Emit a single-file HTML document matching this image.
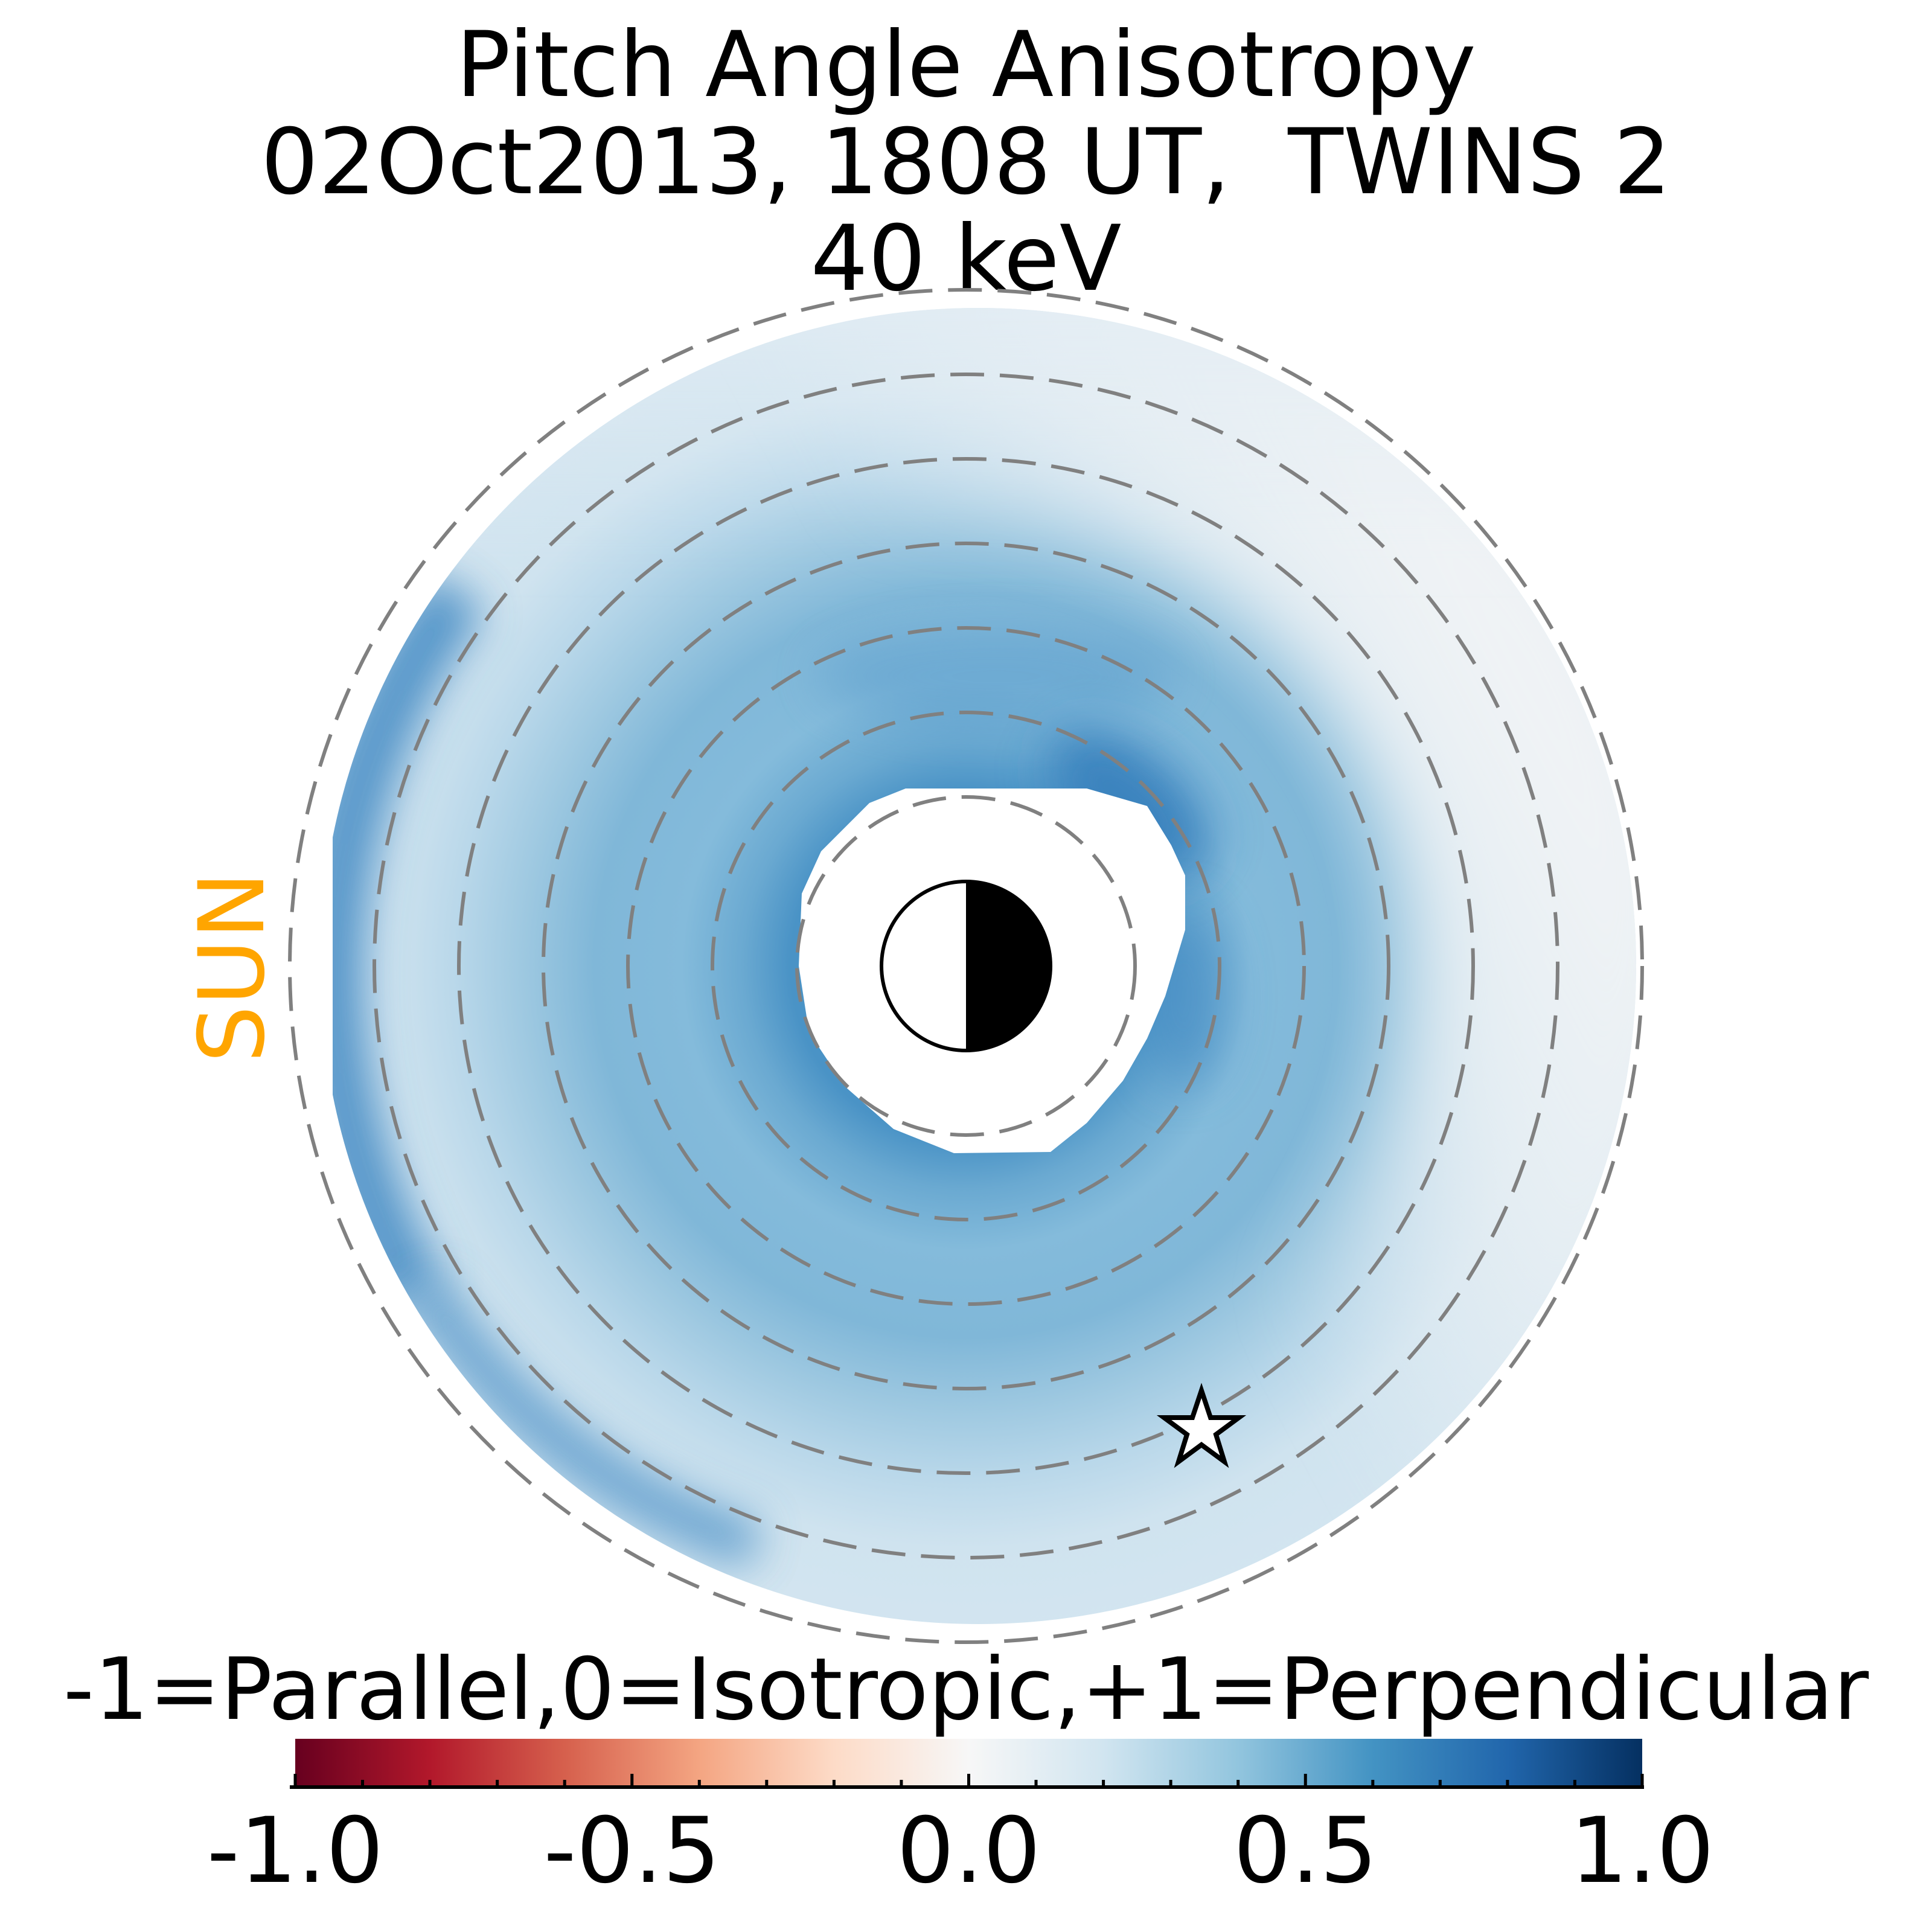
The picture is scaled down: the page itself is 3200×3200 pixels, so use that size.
<!DOCTYPE html>
<html><head><meta charset="utf-8"><style>html,body{margin:0;padding:0;background:#fff}svg{display:block}</style></head>
<body>
<svg width="3200" height="3200" viewBox="0 0 3200 3200" xmlns="http://www.w3.org/2000/svg" font-family="'DejaVu Sans','Liberation Sans',sans-serif">
<defs>
<radialGradient id="base" cx="1600" cy="1600" r="1120" gradientUnits="userSpaceOnUse">
<stop offset="0.26" stop-color="#4a93c6"/>
<stop offset="0.33" stop-color="#6aa9d1"/>
<stop offset="0.42" stop-color="#84bbdb"/>
<stop offset="0.55" stop-color="#80b7d8"/>
<stop offset="0.66" stop-color="#9fc9e1"/>
<stop offset="0.76" stop-color="#bad8ea"/>
<stop offset="0.86" stop-color="#cfe3ef"/>
<stop offset="1" stop-color="#d3e5f0"/>
</radialGradient>
<linearGradient id="pale" x1="1900" y1="1750" x2="2650" y2="1350" gradientUnits="userSpaceOnUse">
<stop offset="0" stop-color="#eef2f5" stop-opacity="0"/>
<stop offset="0.55" stop-color="#eaf0f4" stop-opacity="0.85"/>
<stop offset="1" stop-color="#f0f3f5" stop-opacity="1"/>
</linearGradient>
<linearGradient id="paletop" x1="1600" y1="900" x2="1600" y2="480" gradientUnits="userSpaceOnUse">
<stop offset="0" stop-color="#e3edf4" stop-opacity="0"/>
<stop offset="1" stop-color="#e3edf4" stop-opacity="0.7"/>
</linearGradient>
<linearGradient id="cbar" x1="489" y1="0" x2="2720" y2="0" gradientUnits="userSpaceOnUse">
<stop offset="0" stop-color="#67001f"/>
<stop offset="0.1" stop-color="#b2182b"/>
<stop offset="0.2" stop-color="#d6604d"/>
<stop offset="0.3" stop-color="#f4a582"/>
<stop offset="0.4" stop-color="#fddbc7"/>
<stop offset="0.5" stop-color="#f7f7f7"/>
<stop offset="0.6" stop-color="#d1e5f0"/>
<stop offset="0.7" stop-color="#92c5de"/>
<stop offset="0.8" stop-color="#4393c3"/>
<stop offset="0.9" stop-color="#2166ac"/>
<stop offset="1" stop-color="#053061"/>
</linearGradient>
<clipPath id="disk"><path d="M551 1387 A1090 1090 0 1 1 551 1813 Z"/></clipPath>
<filter id="bl" filterUnits="userSpaceOnUse" x="0" y="0" width="3200" height="3200"><feGaussianBlur stdDeviation="40"/></filter>
<filter id="bl2" filterUnits="userSpaceOnUse" x="0" y="0" width="3200" height="3200"><feGaussianBlur stdDeviation="35"/></filter>
<filter id="bl3" filterUnits="userSpaceOnUse" x="0" y="0" width="3200" height="3200"><feGaussianBlur stdDeviation="60"/></filter>
</defs>

<text x="1600" y="159" font-size="150" text-anchor="middle">Pitch Angle Anisotropy</text>
<text x="1600" y="320" font-size="150" text-anchor="middle" xml:space="preserve">02Oct2013, 1808 UT,  TWINS 2</text>
<text x="1600" y="480" font-size="150" text-anchor="middle">40 keV</text>

<g clip-path="url(#disk)">
<rect x="400" y="400" width="2400" height="2400" fill="url(#base)"/>
<path d="M1600 400 A1200 1200 0 1 1 1599 400 Z M1600 850 A750 750 0 1 0 1601 850 Z" fill-rule="evenodd" fill="url(#pale)" filter="url(#bl3)"/>
<rect x="400" y="300" width="2400" height="700" fill="url(#paletop)" filter="url(#bl3)"/>
<path d="M 760 980 A1060 1060 0 0 0 690 2150" fill="none" stroke="#3f88c2" stroke-width="110" opacity="0.85" filter="url(#bl2)"/>
<path d="M 700 2130 A1000 1000 0 0 0 1250 2560" fill="none" stroke="#4a90c6" stroke-width="80" opacity="0.75" filter="url(#bl2)"/>
<ellipse cx="1870" cy="1330" rx="160" ry="90" transform="rotate(40 1870 1330)" fill="#2f79b9" opacity="0.8" filter="url(#bl)"/>
<ellipse cx="1960" cy="1650" rx="70" ry="150" fill="#3f88c2" opacity="0.6" filter="url(#bl)"/>
<ellipse cx="1650" cy="1120" rx="300" ry="80" fill="#4d93c7" opacity="0.4" filter="url(#bl)"/>
</g>

<path d="M1440 1330 L1500 1306 L1800 1306 L1900 1335 L1940 1400 L1963 1450 L1963 1540 L1930 1650 L1900 1720 L1860 1790 L1800 1860 L1740 1908 L1580 1910 L1480 1870 L1400 1800 L1340 1710 L1323 1600 L1328 1480 L1360 1410 Z" fill="#fff"/>

<g fill="none" stroke="#808080" stroke-width="6" stroke-dasharray="56 26">
<circle cx="1600" cy="1600" r="280"/>
<circle cx="1600" cy="1600" r="420"/>
<circle cx="1600" cy="1600" r="560"/>
<circle cx="1600" cy="1600" r="700"/>
<circle cx="1600" cy="1600" r="840"/>
<circle cx="1600" cy="1600" r="980"/>
<circle cx="1600" cy="1600" r="1120"/>
</g>

<circle cx="1600" cy="1600" r="140" fill="#fff" stroke="#000" stroke-width="6"/>
<path d="M1600 1460 A140 140 0 0 1 1600 1740 Z" fill="#000"/>

<polygon points="1990,2303 2005,2348 2052,2348 2014,2376 2028,2421 1990,2393 1952,2421 1966,2376 1928,2348 1975,2348" fill="#fff" stroke="#000" stroke-width="8" stroke-linejoin="miter"/>

<text x="0" y="0" font-size="150" fill="#ffa500" text-anchor="middle" transform="translate(436 1602) rotate(-90)">SUN</text>

<text x="1600" y="2847" font-size="142" text-anchor="middle">-1=Parallel,0=Isotropic,+1=Perpendicular</text>
<rect x="489" y="2880" width="2231" height="78" fill="url(#cbar)"/>
<line x1="480" y1="2960" x2="2723" y2="2960" stroke="#000" stroke-width="6"/>
<g stroke="#000" stroke-width="5">
<line x1="489" y1="2960" x2="489" y2="2938"/>
<line x1="1046.75" y1="2960" x2="1046.75" y2="2938"/>
<line x1="1604.5" y1="2960" x2="1604.5" y2="2938"/>
<line x1="2162.25" y1="2960" x2="2162.25" y2="2938"/>
<line x1="2720" y1="2960" x2="2720" y2="2938"/>
<line x1="600.5" y1="2960" x2="600.5" y2="2948"/><line x1="712" y1="2960" x2="712" y2="2948"/><line x1="823.6" y1="2960" x2="823.6" y2="2948"/><line x1="935.2" y1="2960" x2="935.2" y2="2948"/>
<line x1="1158.3" y1="2960" x2="1158.3" y2="2948"/><line x1="1269.8" y1="2960" x2="1269.8" y2="2948"/><line x1="1381.4" y1="2960" x2="1381.4" y2="2948"/><line x1="1492.9" y1="2960" x2="1492.9" y2="2948"/>
<line x1="1716" y1="2960" x2="1716" y2="2948"/><line x1="1827.6" y1="2960" x2="1827.6" y2="2948"/><line x1="1939.1" y1="2960" x2="1939.1" y2="2948"/><line x1="2050.7" y1="2960" x2="2050.7" y2="2948"/>
<line x1="2273.8" y1="2960" x2="2273.8" y2="2948"/><line x1="2385.3" y1="2960" x2="2385.3" y2="2948"/><line x1="2496.9" y1="2960" x2="2496.9" y2="2948"/><line x1="2608.4" y1="2960" x2="2608.4" y2="2948"/>
</g>
<g font-size="150" text-anchor="middle">
<text x="489" y="3117">-1.0</text>
<text x="1046.75" y="3117">-0.5</text>
<text x="1604.5" y="3117">0.0</text>
<text x="2162.25" y="3117">0.5</text>
<text x="2720" y="3117">1.0</text>
</g>
</svg>
</body></html>
